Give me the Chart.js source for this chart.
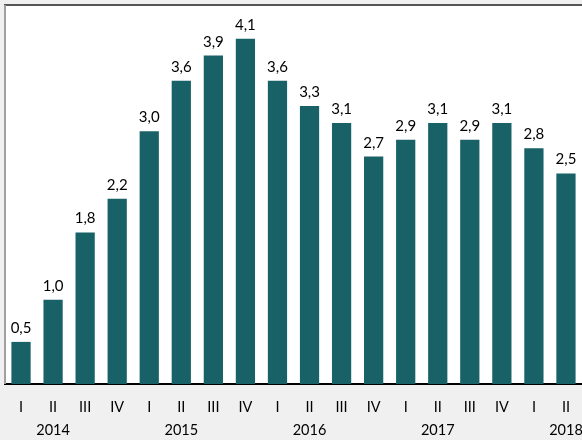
<!DOCTYPE html>
<html>
<head>
<meta charset="utf-8">
<script src="https://cdn.jsdelivr.net/npm/chart.js@4"></script>
<style>
  html, body { margin: 0; padding: 0; background: #f0f0f0; }
  #wrap { width: 582px; height: 440px; }
</style>
</head>
<body>
<div id="wrap"><canvas id="c" width="582" height="440"></canvas></div>
<script>
const quarters = ['I','II','III','IV','I','II','III','IV','I','II','III','IV','I','II','III','IV','I','II'];
const years = ['', '2014', '', '', '', '2015', '', '', '', '2016', '', '', '', '2017', '', '', '', '2018'];
const values = [0.5, 1.0, 1.8, 2.2, 3.0, 3.6, 3.9, 4.1, 3.6, 3.3, 3.1, 2.7, 2.9, 3.1, 2.9, 3.1, 2.8, 2.5];

const labels = quarters.map((q, i) => [q, years[i]]);
const FONT = 'Lato, "Open Sans", sans-serif';
const BAR = '#186166';

const framePlugin = {
  id: 'frame',
  beforeDraw(chart) {
    const { ctx, chartArea: a } = chart;
    ctx.save();
    ctx.fillStyle = '#f0f0f0';
    ctx.fillRect(0, 0, chart.width, chart.height);
    ctx.fillStyle = '#ffffff';
    ctx.fillRect(a.left, a.top, chart.width - a.left, a.bottom - a.top);
    ctx.restore();
  },
  afterDraw(chart) {
    const { ctx, chartArea: a } = chart;
    ctx.save();
    ctx.strokeStyle = '#555555';
    ctx.lineWidth = 2;
    ctx.beginPath();
    ctx.moveTo(a.left - 1, a.top);
    ctx.lineTo(chart.width, a.top);
    ctx.stroke();
    ctx.strokeStyle = '#a0a0a0';
    ctx.beginPath();
    ctx.moveTo(a.left, a.top);
    ctx.lineTo(a.left, a.bottom);
    ctx.stroke();
    ctx.restore();
  }
};

const labelPlugin = {
  id: 'valueLabels',
  afterDatasetsDraw(chart) {
    const { ctx } = chart;
    const meta = chart.getDatasetMeta(0);
    ctx.save();
    ctx.font = '15px ' + FONT;
    ctx.fillStyle = '#000000';
    ctx.textAlign = 'center';
    ctx.textBaseline = 'alphabetic';
    meta.data.forEach((bar, i) => {
      const txt = values[i].toFixed(1).replace('.', ',');
      ctx.fillText(txt, bar.x, bar.y - 9);
    });
    ctx.restore();
  }
};

new Chart(document.getElementById('c'), {
  type: 'bar',
  data: {
    labels: labels,
    datasets: [{
      data: values,
      backgroundColor: BAR,
      borderWidth: 0,
      barPercentage: 0.6,
      categoryPercentage: 1.0
    }]
  },
  options: {
    responsive: false,
    animation: false,
    devicePixelRatio: 1,
    layout: { padding: { left: 5, top: 5, right: 0, bottom: 0 } },
    plugins: { legend: { display: false }, tooltip: { enabled: false } },
    scales: {
      x: {
        grid: { display: false, drawTicks: false },
        border: { display: true, color: '#000000', width: 2 },
        ticks: {
          color: '#000000',
          font: { family: FONT, size: 14.5, lineHeight: 1.6 },
          padding: 12,
          maxRotation: 0,
          autoSkip: false
        },
        afterFit(scale) {
          scale.height = 56;
          scale.paddingLeft = 0;
          scale.paddingRight = 0;
        }
      },
      y: {
        display: false,
        min: 0,
        max: 4.5
      }
    }
  },
  plugins: [framePlugin, labelPlugin]
});
</script>
</body>
</html>
